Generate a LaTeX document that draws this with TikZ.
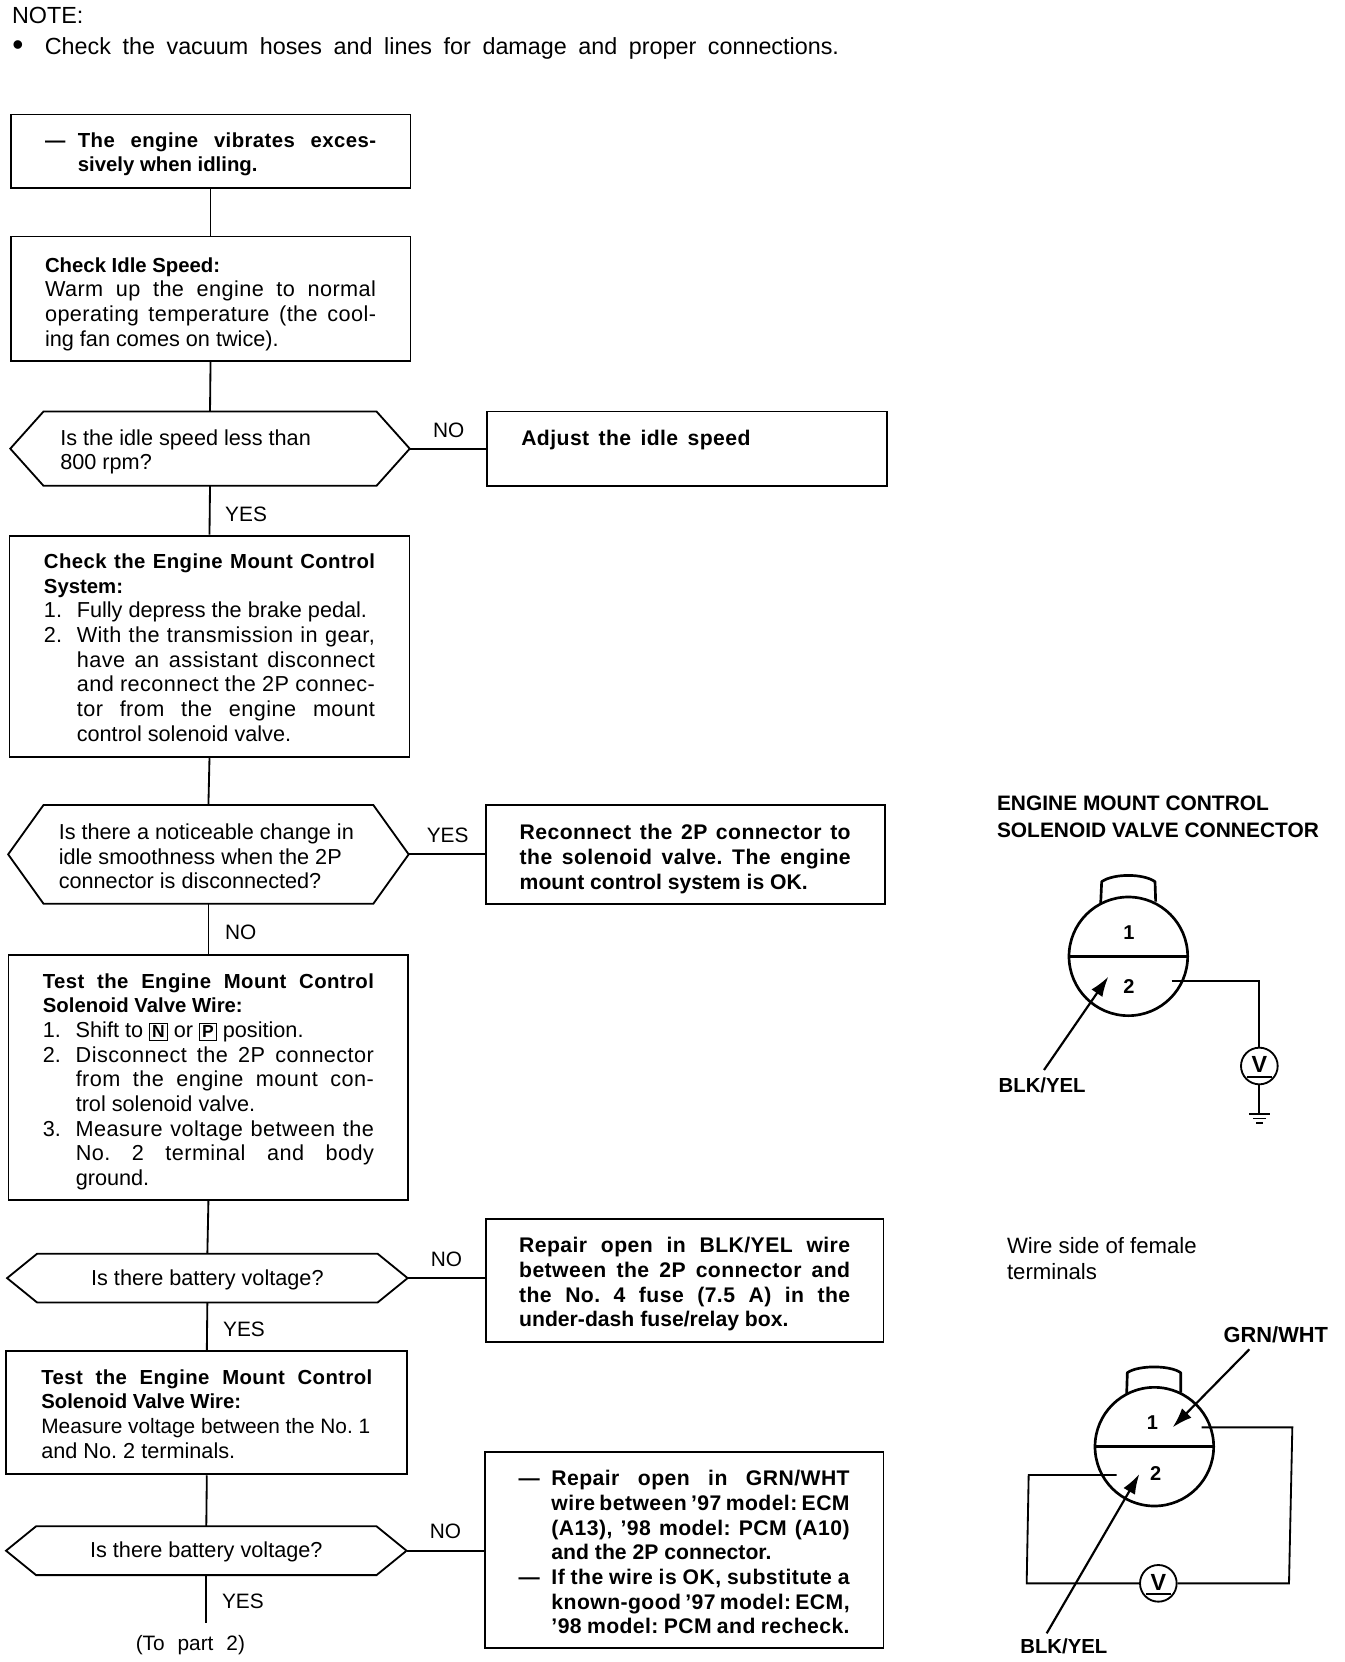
\documentclass[tikz,border=0pt]{standalone}
\usepackage{fontspec}
\setmainfont{Liberation Sans}
\usetikzlibrary{arrows.meta,calc}
\newlength\lstind \setlength\lstind{19.7pt}
\newcommand\fixsp{\spaceskip=0pt \xspaceskip=0pt \frenchspacing}
\newcommand\track{\addfontfeature{LetterSpace=2}}
\newcommand\bfb{\fontsize{12.2}{14.8}\selectfont\bfseries}
\newcommand\rbf{\fontsize{12.7}{14.8}\selectfont\bfseries}
\newcommand\jline[1]{\makebox[\linewidth][s]{\fixsp\track #1}\par}
\newcommand\pline[1]{\mbox{\fixsp #1}\par}
\newcommand\numj[2]{\leavevmode\makebox[\lstind][l]{#1}\makebox[\dimexpr\linewidth-\lstind][s]{\fixsp\track #2}\par}
\newcommand\nump[2]{\leavevmode\makebox[\lstind][l]{#1}\mbox{\fixsp #2}\par}
\newcommand\indj[1]{\numj{}{#1}}
\newcommand\indp[1]{\nump{}{#1}}
\newcommand\hexl[1]{\leavevmode\hspace*{9.5pt}\mbox{\fixsp #1}\par}
\newcommand\cenl[1]{\makebox[\linewidth]{\fixsp #1}\par}
\newcommand\tshift[1]{\vspace*{-#1}}
\newcommand\keycap[1]{\smash{\setlength\fboxsep{1.2pt}\setlength\fboxrule{0.6pt}\fbox{\fontsize{10.5}{10.5}\selectfont\bfseries #1}}}
\tikzset{
  txt/.style={font=\fontsize{13}{14.8}\selectfont,text=black},
  flowbox/.style={txt,draw=black,line width=1.1pt,inner xsep=0pt,inner ysep=0pt,text width=198.6pt,fill=white},
  hexbox/.style={txt,inner xsep=0pt,inner ysep=0pt,text width=198.6pt},
  wire/.style={draw=black,line width=1.1pt},
  thick wire/.style={draw=black,line width=1.6pt},
  lab/.style={font=\fontsize{12.5}{14.8}\selectfont,inner sep=0pt},
  notelab/.style={font=\fontsize{14}{16}\selectfont,inner sep=0pt,anchor=base west},
  sidelab/.style={font=\fontsize{13.3}{15}\selectfont,inner sep=0pt,anchor=base west},
  headlab/.style={font=\fontsize{12.55}{14}\selectfont\bfseries,inner sep=0pt,anchor=base west},
  pin/.style={font=\fontsize{12}{14}\selectfont\bfseries,inner sep=0pt},
  meter/.style={circle,draw=black,line width=1.1pt,minimum size=22pt,inner sep=0pt,fill=white,font=\fontsize{14}{14}\selectfont\bfseries},
  lead/.style={draw=black,line width=1.3pt,-{Latex[length=12pt,width=8pt]}}
}
% name, x1, y1, x2, y2, text
\newcommand\flownode[6]{\node[flowbox,minimum width={(#4-#2)*0.6364pt},minimum height={(#5-#3)*0.6364pt}] (#1) at ({(#2+#4)/2},{(#3+#5)/2}) {#6};}
% name, x1, y1, x2, y2, chamfer, text
\newcommand\hexnode[7]{\node[hexbox,minimum width={(#4-#2)*0.6364pt},minimum height={(#5-#3)*0.6364pt}] (#1) at ({(#2+#4)/2},{(#3+#5)/2}) {#7};
  \draw[wire,line join=miter] (#1.west) -- (#2+#6,#3) -- (#4-#6,#3) -- (#1.east) -- (#4-#6,#5) -- (#2+#6,#5) -- cycle;}
\begin{document}
\begin{tikzpicture}[x=0.6364pt,y=-0.6364pt]
\useasboundingbox[fill=white] (0pt,0pt) rectangle (806.4pt,-997.2pt);

\node[notelab] (note) at (11,22) {NOTE:};
\node[font=\fontsize{19}{19}\selectfont,inner sep=0pt] (bullet) at (17,45) {\textbullet};
\node[notelab] (notetext) at (42,51) {\makebox[476.5pt][s]{\fixsp Check the vacuum hoses and lines for damage and proper connections.}};

\flownode{b1}{10}{108}{387}{177}{\bfb
  \numj{—}{The engine vibrates exces-}
  \indp{sively when idling.}\tshift{3.8pt}}
\flownode{b2}{10}{223}{387}{340}{
  \pline{\bfb Check Idle Speed:}
  \jline{Warm up the engine to normal}
  \jline{operating temperature (the cool-}
  \pline{ing fan comes on twice).}\tshift{6.4pt}}
\hexnode{d1}{10}{388}{386}{458}{31}{
  \hexl{Is the idle speed less than}
  \hexl{800 rpm?}\tshift{3.8pt}}
\flownode{r1}{459}{388}{836}{458}{\rbf
  \leavevmode\makebox[137.5pt][s]{\fixsp\track Adjust the idle speed}\par
  \pline{\strut}\tshift{6.4pt}}
\flownode{b3}{9}{505}{386}{714}{
  \jline{\bfb Check the Engine Mount Control}
  \pline{\bfb System:}
  \nump{1.}{Fully depress the brake pedal.}
  \numj{2.}{With the transmission in gear,}
  \indj{have an assistant disconnect}
  \indj{and reconnect the 2P connec-}
  \indj{tor from the engine mount}
  \indp{control solenoid valve.}\tshift{1.3pt}}
\hexnode{d2}{8}{759}{385}{852}{33}{
  \hexl{Is there a noticeable change in}
  \hexl{idle smoothness when the 2P}
  \hexl{connector is disconnected?}\tshift{2.5pt}}
\flownode{r2}{458}{759}{834}{852}{\rbf
  \jline{Reconnect the 2P connector to}
  \jline{the solenoid valve. The engine}
  \pline{mount control system is OK.}\tshift{5.7pt}}
\flownode{b4}{8}{900}{385}{1131}{
  \jline{\bfb Test the Engine Mount Control}
  \pline{\bfb Solenoid Valve Wire:}
  \nump{1.}{Shift to \keycap{N} or \keycap{P} position.}
  \numj{2.}{Disconnect the 2P connector}
  \indj{from the engine mount con-}
  \indp{trol solenoid valve.}
  \numj{3.}{Measure voltage between the}
  \indj{No. 2 terminal and body}
  \indp{ground.}\tshift{5.7pt}}
\hexnode{d3}{7}{1182}{384}{1228}{28}{\cenl{Is there battery voltage?}\tshift{3.8pt}}
\flownode{r3}{458}{1149}{833}{1265}{\rbf
  \jline{Repair open in BLK/YEL wire}
  \jline{between the 2P connector and}
  \jline{the No. 4 fuse (7.5 A) in the}
  \pline{under-dash fuse/relay box.}\tshift{5pt}}
\flownode{b5}{6}{1274}{384}{1390}{
  \jline{\bfb Test the Engine Mount Control}
  \pline{\bfb Solenoid Valve Wire:}
  \pline{\fontsize{12.5}{14.8}\selectfont Measure voltage between the No. 1}
  \pline{and No. 2 terminals.}\tshift{1.3pt}}
\hexnode{d4}{6}{1439}{383}{1485}{28}{\cenl{Is there battery voltage?}\tshift{1.3pt}}
\flownode{r4}{457}{1369}{833}{1554}{\rbf
  \numj{—}{Repair open in GRN/WHT}
  \indj{wire between ’97 model: ECM}
  \indj{(A13), ’98 model: PCM (A10)}
  \indp{and the 2P connector.}
  \numj{—}{If the wire is OK, substitute a}
  \indj{known-good ’97 model: ECM,}
  \indj{’98 model: PCM and recheck.}\tshift{2.5pt}}

\coordinate (d4end) at (194.5,1530);
\draw[wire] (b1.south) -- (b2.north);
\draw[wire] (b2.south) -- (d1.north);
\draw[wire] (d1.south) -- (b3.north);
\draw[wire] (b3.south) -- (d2.north);
\draw[wire] (d2.south) -- (b4.north);
\draw[wire] (b4.south) -- (d3.north);
\draw[wire] (d3.south) -- (b5.north);
\draw[wire] (b5.south) -- (d4.north);
\draw[wire] (d4.south) -- (d4end);
\draw[wire] (d1.east) -- (d1.east -| r1.west);
\draw[wire] (d2.east) -- (d2.east -| r2.west);
\draw[wire] (d3.east) -- (d3.east -| r3.west);
\draw[wire] (d4.east) -- (d4.east -| r4.west);

\node[lab] (l1) at (423,406) {NO};
\node[lab] (l2) at (232,485) {YES};
\node[lab] (l3) at (422,788) {YES};
\node[lab] (l4) at (227,879) {NO};
\node[lab] (l5) at (421,1187) {NO};
\node[lab] (l6) at (230,1253) {YES};
\node[lab] (l7) at (420,1444) {NO};
\node[lab] (l8) at (229,1510) {YES};
\node[lab] (l9) at (179.5,1551) {\makebox[65.5pt][s]{\fixsp (To part 2)}};

% upper connector: coordinates are those of the crop at 3x
\begin{scope}[shift={(570pt,-456pt)},x=0.2pt,y=-0.2pt]
  \node[headlab] (t1) at (140,152) {ENGINE MOUNT CONTROL};
  \node[headlab] (t2) at (140,231) {SOLENOID VALVE CONNECTOR};
  \coordinate (c1) at (535,589);
  \draw[thick wire,line join=round] (452,430) -- (455,365) .. controls (490,340) and (580,340) .. (615,365) -- (617,425);
  \draw[thick wire] (c1) circle[radius=35.6pt];
  \draw[draw=black,line width=1.8pt] (357,589) -- (713,589);
  \node[pin] (p1) at (537,518) {1};
  \node[pin] (p2) at (537,680) {2};
  \node[meter] (v1) at (928,918) {\smash{\raisebox{-4pt}{V}}};
  \draw[draw=black,line width=1pt] (890,950) -- (966,950);
  \coordinate (w1) at (665,663);
  \coordinate (g1) at (928,1062);
  \draw[wire] (w1) -| (v1.north);
  \draw[wire] (v1.south) -- (g1);
  \draw[draw=black,line width=1.4pt] (898,1062) -- (960,1062);
  \draw[draw=black,line width=1pt] (909,1075) -- (948,1075);
  \draw[draw=black,line width=1pt] (918,1088) -- (938,1088);
  \node[headlab,anchor=west,font=\fontsize{12.2}{14}\selectfont\bfseries] (by1) at (145,975) {BLK/YEL};
  \coordinate (a1s) at (282,930);
  \coordinate (a1e) at (475,650);
  \draw[lead] (a1s) -- (a1e);
\end{scope}

% lower connector
\begin{scope}[shift={(588pt,-732pt)},x=0.2pt,y=-0.2pt]
  \node[sidelab] (w1t) at (80,100) {\fixsp Wire side of female};
  \node[sidelab] (w2t) at (80,178) {terminals};
  \node[headlab,anchor=west,font=\fontsize{13.1}{14}\selectfont\bfseries] (gw) at (730,343) {GRN/WHT};
  \coordinate (c2) at (523,680);
  \draw[thick wire,line join=round] (440,520) -- (442,458) .. controls (475,435) and (570,435) .. (602,458) -- (602,518);
  \draw[thick wire] (c2) circle[radius=35.6pt];
  \draw[draw=black,line width=1.6pt] (345,680) -- (700,680);
  \node[pin] (q1) at (517,608) {1};
  \node[pin] (q2) at (527,760) {2};
  \node[meter] (v2) at (535,1090) {\smash{\raisebox{-4pt}{V}}};
  \draw[draw=black,line width=1pt] (497,1122) -- (573,1122);
  \coordinate (e1) at (665,622);
  \coordinate (e2) at (937,622);
  \coordinate (e3) at (927,1090);
  \coordinate (e4) at (140,1090);
  \coordinate (e5) at (146,765);
  \coordinate (e6) at (410,765);
  \draw[wire,line join=miter] (e1) -- (e2) -- (e3) -- (v2.east);
  \draw[wire,line join=miter] (v2.west) -- (e4) -- (e5) -- (e6);
  \coordinate (a2s) at (808,388);
  \coordinate (a2e) at (578,622);
  \draw[lead] (a2s) -- (a2e);
  \node[headlab,anchor=west,font=\fontsize{12.2}{14}\selectfont\bfseries] (by2) at (120,1278) {BLK/YEL};
  \coordinate (a3s) at (200,1240);
  \coordinate (a3e) at (478,762);
  \draw[lead] (a3s) -- (a3e);
\end{scope}
\end{tikzpicture}
\end{document}
